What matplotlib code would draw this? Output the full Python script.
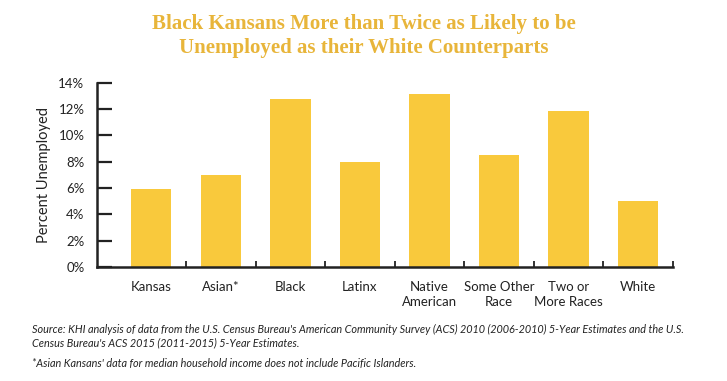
import matplotlib.pyplot as plt
import numpy as np

# unemployment rate by race/ethnicity, Kansas, ACS 5-year estimates
groups = ["Kansas", "Asian*", "Black", "Latinx", "Native\nAmerican",
          "Some Other\nRace", "Two or\nMore Races", "White"]
unemployed = [5.95, 7.0, 12.75, 8.0, 13.15, 8.5, 11.85, 5.0]
yticks = [0, 2, 4, 6, 8, 10, 12, 14]

bar_color = "#F9C93C"
title_color = "#E8B53A"
ink = "#222222"

fig = plt.figure(figsize=(7.27, 3.81), dpi=100)
ax = fig.add_axes([0.1334, 0.2992, 0.7923, 0.4838])

x = np.arange(len(groups))
ax.bar(x, unemployed, width=0.58, color=bar_color)

ax.set_xlim(-0.78, 7.5)
ax.set_ylim(0, 14)

ax.set_yticks(yticks)
ax.set_yticklabels([f"{v}%" for v in yticks], fontfamily="Lato", fontsize=9.5, color=ink)
ax.tick_params(axis="y", direction="in", length=11, width=1.6, color=ink, pad=9)

ax.set_xticks(x)
ax.set_xticklabels(groups, fontfamily="Lato", fontsize=9.5, color=ink, linespacing=1.3)
ax.tick_params(axis="x", which="major", length=0, pad=10)
ax.set_xticks(x + 0.5, minor=True)
ax.tick_params(axis="x", which="minor", direction="in", length=4.5, width=1.3, color=ink)

for side in ["top", "right"]:
    ax.spines[side].set_visible(False)
for side in ["left", "bottom"]:
    ax.spines[side].set_linewidth(1.8)
    ax.spines[side].set_color(ink)

ax.set_ylabel("Percent Unemployed", fontfamily="Lato", fontsize=10.5, color=ink, labelpad=5)

fig.text(0.5, 0.905, "Black Kansans More than Twice as Likely to be\nUnemployed as their White Counterparts",
         ha="center", va="center", fontfamily="Liberation Serif", fontweight="bold",
         fontsize=15, color=title_color, linespacing=1.25)

fig.text(0.044, 0.117, "Source: KHI analysis of data from the U.S. Census Bureau's American Community Survey (ACS) 2010 (2006-2010) 5-Year Estimates and the U.S.\n"
         "Census Bureau's ACS 2015 (2011-2015) 5-Year Estimates.",
         ha="left", va="center", fontfamily="Lato", style="italic", fontsize=7.8, color=ink, linespacing=1.3)
fig.text(0.044, 0.047, "*Asian Kansans' data for median household income does not include Pacific Islanders.",
         ha="left", va="center", fontfamily="Lato", style="italic", fontsize=7.8, color=ink)

fig.savefig("out.png", dpi=100)
